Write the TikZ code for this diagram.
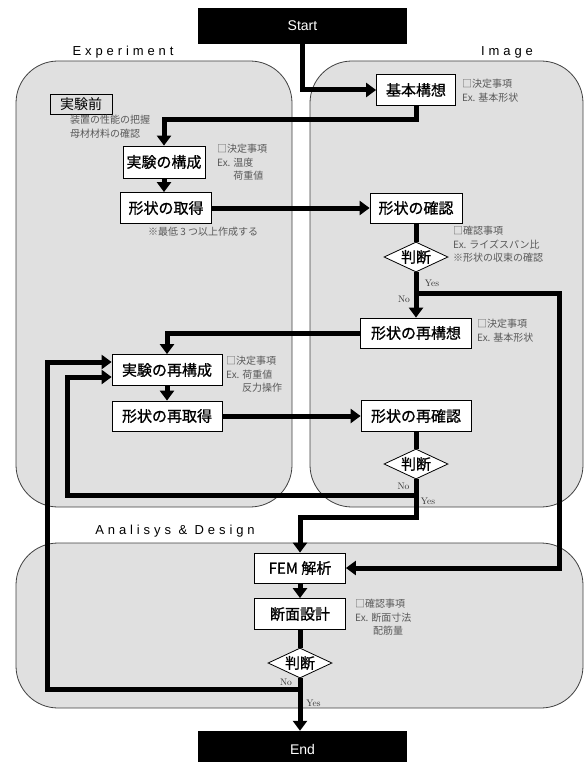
\documentclass[tikz,border=0pt]{standalone}
\usepackage{fontspec}
\newfontfamily\cjk{Noto Sans CJK JP}
\newfontfamily\cjkbox[FakeBold=0.8]{Noto Sans CJK JP}
\newfontfamily\sansfont{Liberation Sans}
\newfontfamily\spacedfont[LetterSpace=30]{Liberation Sans}
\usepackage{tikz}
\usetikzlibrary{arrows.meta, shapes.geometric, positioning}

\begin{document}
\begin{tikzpicture}[x=1pt, y=-1pt,
  region/.style={draw=black!75, fill=black!12, rounded corners=42pt, line width=0.8pt},
  proc/.style={draw, fill=white, line width=0.8pt, inner sep=0pt, minimum height=31pt, font=\cjkbox\fontsize{15}{18}\selectfont},
  judge/.style={draw, fill=white, diamond, aspect=2, inner sep=0pt, minimum width=64pt, minimum height=30pt, line width=0.8pt, font=\cjkbox\fontsize{15}{18}\selectfont},
  term/.style={fill=black, text=white, minimum width=209pt, minimum height=36pt, font=\sansfont\fontsize{14}{16}\selectfont},
  note/.style={anchor=north west, align=left, text=black!65, inner sep=0pt, font=\cjk\fontsize{10}{13.5}\selectfont},
  head/.style={font=\spacedfont\fontsize{13}{15}\selectfont},
  lbl/.style={font=\fontsize{9.5}{10}\selectfont, text=black!80, inner sep=0pt},
  wire/.style={line width=5pt},
  flow/.style={wire, -{Triangle[width=14pt,length=10pt]}},
]
\useasboundingbox (0,0) rectangle (585,762);

% regions
\draw[region] (16,61) rectangle (292,507);
\draw[region] (310,61) rectangle (583,507);
\draw[region] (16,543) rectangle (583,708);
\node[head] (exphead) at (123,52) {Experiment};
\node[head] (imghead) at (507,52) {Image};
\node[head] (anahead) at (175,531) {Analisys \& Design};

% terminals
\node[term] (start) at (302.5,26) {Start};
\node[term] (end) at (302.5,749) {End};

% experiment
\node[draw, line width=0.6pt, minimum width=62pt, minimum height=20pt, inner sep=0pt, font=\cjk\fontsize{14}{16}\selectfont] (mae) at (81,104) {実験前};
\node[note] (maenote) at (70,115) {装置の性能の把握\\母材材料の確認};
\node[proc, minimum width=82pt, minimum height=32pt] (jikken) at (164,162) {実験の構成};
\node[note] (jikkennote) at (217,144) {□決定事項\\Ex. 温度\\\phantom{Ex. }荷重値};
\node[proc, minimum width=91pt] (shutoku) at (166,208) {形状の取得};
\node[note] (shutokunote) at (148,227) {※最低 3 つ以上作成する};
\node[proc, minimum width=110pt] (saikosei) at (167,370) {実験の再構成};
\node[note] (saikoseinote) at (226,356) {□決定事項\\Ex. 荷重値\\\hspace{16pt}反力操作};
\node[proc, minimum width=110pt, minimum height=30pt] (saishutoku) at (167,416) {形状の再取得};

% image
\node[proc, minimum width=79pt] (kihon) at (416,90) {基本構想};
\node[note] (kihonnote) at (462,79) {□決定事項\\Ex. 基本形状};
\node[proc, minimum width=92pt, minimum height=30pt] (kakunin) at (416,208) {形状の確認};
\node[judge] (hantei1) at (416,257) {判断};
\node[note] (hantei1note) at (453,226) {□確認事項\\Ex. ライズスパン比\\※形状の収束の確認};
\node[proc, minimum width=111pt, minimum height=30pt] (saikoso) at (416,333) {形状の再構想};
\node[note] (saikosonote) at (477,319) {□決定事項\\Ex. 基本形状};
\node[proc, minimum width=110pt] (saikakunin) at (416,416) {形状の再確認};
\node[judge] (hantei2) at (416,464) {判断};

% analysis & design
\node[proc, minimum width=91pt, minimum height=30pt] (fem) at (300,568) {FEM 解析};
\node[proc, minimum width=91pt] (danmen) at (300,614) {断面設計};
\node[note] (danmennote) at (355,599) {□確認事項\\Ex. 断面寸法\\\hspace{18pt}配筋量};
\node[judge] (hantei3) at (300,663) {判断};

\node[lbl] (no1) at (404,299) {No};
\node[lbl] (yes1lbl) at (432,283) {Yes};
\node[lbl] (no2lbl) at (403.5,486) {No};
\node[lbl] (yes2lbl) at (428,501) {Yes};
\node[lbl] (no3lbl) at (286,682) {No};
\node[lbl] (yes3lbl) at (313.5,703) {Yes};

\coordinate (yes1) at (559,293);
\coordinate (no2) at (67,495);
\coordinate (yes2) at (416,517);
\coordinate (no3) at (47,689);

% connectors
\draw[flow] (start) |- (kihon);
\draw[flow] (kihon.south) -- ++(0,14) -| (jikken.north);
\draw[flow] (jikken.south) -- (jikken.south |- shutoku.north);
\draw[flow] (shutoku) -- (kakunin);
\draw[wire] (kakunin) -- (hantei1);
\draw[flow] (hantei1) -- (saikoso);
\draw[flow] (hantei1.south |- yes1) -- (yes1) |- (fem.east);
\draw[flow] (saikoso) -| (saikosei);
\draw[flow] (saikosei) -- (saishutoku);
\draw[flow] (saishutoku) -- (saikakunin);
\draw[wire] (saikakunin) -- (hantei2);
\draw[flow] (hantei2.south) |- (no2) |- ([yshift=-7pt]saikosei.west);
\draw[flow] (hantei2.south) -- (yes2) -| (fem);
\draw[flow] (fem) -- (danmen);
\draw[wire] (danmen) -- (hantei3);
\draw[flow] (hantei3) -- (hantei3 |- end.north);
\draw[flow] (hantei3.south) |- (no3) |- ([yshift=8pt]saikosei.west);
\end{tikzpicture}
\end{document}
